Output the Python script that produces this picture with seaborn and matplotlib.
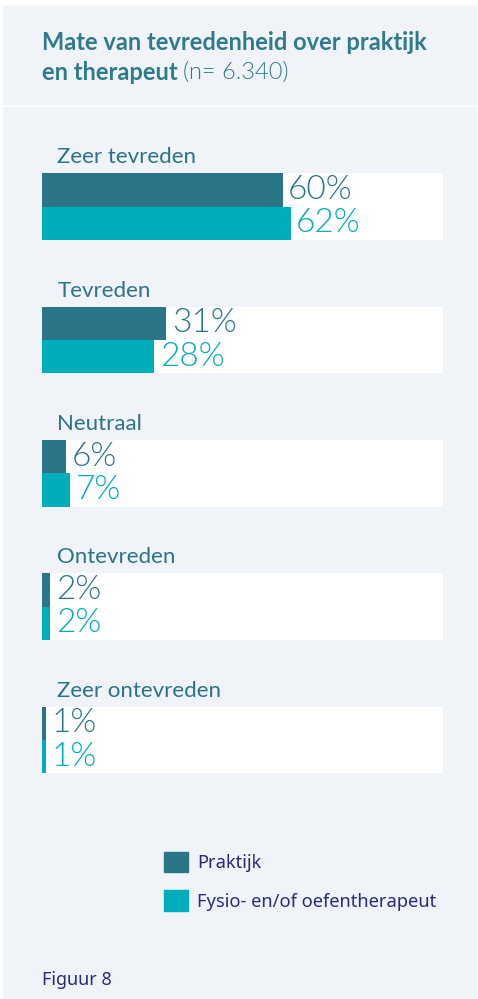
import pandas as pd
import matplotlib.pyplot as plt
import matplotlib.patches as mpatches
import seaborn as sns

categories = ['Zeer tevreden', 'Tevreden', 'Neutraal', 'Ontevreden', 'Zeer ontevreden']
praktijk = [60, 31, 6, 2, 1]
therapeut = [62, 28, 7, 2, 1]
series = ['Praktijk', 'Fysio- en/of oefentherapeut']

dark = '#2B7589'
teal = '#00ADBB'
bg = '#F0F4F8'
navy = '#2B2A7C'
label_col = '#2C7386'

df = pd.DataFrame({
    'categorie': categories * 2,
    'reeks': [series[0]] * len(categories) + [series[1]] * len(categories),
    'waarde': praktijk + therapeut,
})

sns.set_style('white')
plt.rcParams['font.family'] = ['Lato', 'DejaVu Sans']

W, H = 478, 999
fig = plt.figure(figsize=(W / 100, H / 100), dpi=100, facecolor='white')

# background panels
fig.patches.append(mpatches.Rectangle((3 / W, 1 - 104 / H), 473 / W, 98 / H,
                                      transform=fig.transFigure, color=bg, zorder=-5))
fig.patches.append(mpatches.Rectangle((3 / W, 0), 473 / W, (H - 107) / H,
                                      transform=fig.transFigure, color=bg, zorder=-5))

# title
fig.text(42 / W, 1 - 43 / H, 'Mate van tevredenheid over praktijk',
         fontsize=17, fontweight='bold', color='#2F7B8C', va='center')
t = fig.text(42 / W, 1 - 72 / H, 'en therapeut', fontsize=17, fontweight='bold',
             color='#2F7B8C', va='center')
fig.canvas.draw()
bb = t.get_window_extent()
fig.text(bb.x1 / W + 5 / W, 1 - 72 / H, '(n= 6.340)', fontsize=17,
         fontweight=300, color='#2F7B8C', va='center')

# bars
ax = fig.add_axes([42 / W, 1 - 820 / H, 401 / W, 693.5 / H])
ax.set_facecolor('none')
for i in range(len(categories)):
    ax.axhspan(i - 0.25, i + 0.25, xmin=0, xmax=1, color='white', zorder=0, lw=0)

sns.barplot(data=df, x='waarde', y='categorie', hue='reeks', orient='h',
            palette=[dark, teal], width=0.5, saturation=1, legend=False,
            ax=ax, zorder=2, linewidth=0)

for cont, col in zip(ax.containers, [dark, teal]):
    ax.bar_label(cont, labels=[f'{int(b.get_width())}%' for b in cont],
                 padding=4, fontsize=24, fontweight=300, color=col)

for i, cat in enumerate(categories):
    ax.text(3.8, i - 0.37, cat, fontsize=16, color=label_col, va='center', ha='left')

ax.set_xlim(0, 100)
ax.set_ylim(4.6, -0.6)
ax.set_xticks([])
ax.set_yticks([])
ax.set_xlabel('')
ax.set_ylabel('')
sns.despine(ax=ax, left=True, bottom=True)

# legend
handles = [mpatches.Patch(color=dark), mpatches.Patch(color=teal)]
leg = fig.legend(handles, series, loc='upper left', bbox_to_anchor=(147 / W, 1 - 835 / H),
                 frameon=False, handlelength=1.35, handleheight=1.35, labelspacing=1.0,
                 handletextpad=0.5, prop={'family': ['Noto Sans', 'DejaVu Sans'], 'size': 13.2})
for txt in leg.get_texts():
    txt.set_color(navy)

fig.text(42 / W, 1 - 980 / H, 'Figuur 8', fontsize=13, color=navy, va='center',
         family=['Noto Sans', 'DejaVu Sans'])

fig.savefig('out.png', dpi=100, facecolor='white')
